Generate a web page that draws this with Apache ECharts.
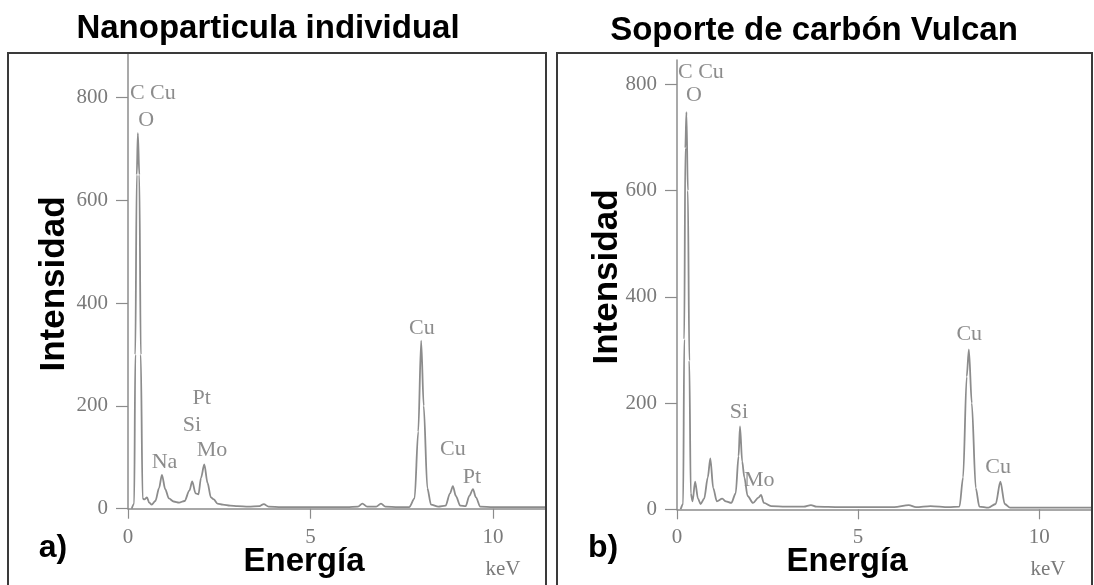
<!DOCTYPE html>
<html>
<head>
<meta charset="utf-8">
<script src="https://cdn.jsdelivr.net/npm/echarts@6/dist/echarts.min.js"></script>
<style>html,body{margin:0;padding:0;background:#fff;}#c{width:1094px;height:585px;}</style>
</head>
<body>
<div id="c"></div>
<script>
// ---- Data ----
const energyA = [0.10,0.17,0.20,0.24,0.27,0.31,0.35,0.40,0.45,0.52,0.58,0.65,0.75,0.85,0.93,1.02,1.12,1.25,1.40,1.55,1.68,1.76,1.85,1.93,2.00,2.09,2.18,2.27,2.35,2.45,2.60,2.80,3.00,3.30,3.60,3.72,3.85,4.20,4.60,5.00,5.50,6.00,6.30,6.42,6.55,6.80,6.93,7.05,7.40,7.70,7.85,7.95,8.03,8.10,8.20,8.30,8.50,8.70,8.82,8.90,8.98,9.10,9.25,9.35,9.45,9.53,9.65,10.00,10.50,11.00,11.45];
const countsA = [0,10,300,650,731,650,300,20,18,22,12,8,15,40,66,38,20,14,12,15,35,53,30,28,60,86,50,22,18,10,8,6,5,4,5,9,4,3,3,3,3,3,4,10,4,4,10,4,3,3,20,150,327,200,40,8,4,6,30,44,25,6,5,25,38,22,4,3,3,3,3];

const energyB = [0.10,0.17,0.20,0.23,0.26,0.30,0.34,0.38,0.43,0.50,0.58,0.65,0.75,0.85,0.92,1.00,1.10,1.25,1.35,1.50,1.62,1.70,1.74,1.80,1.86,1.95,2.10,2.25,2.32,2.40,2.60,3.00,3.50,3.70,3.85,4.50,5.00,5.50,6.00,6.40,6.60,7.00,7.50,7.80,7.90,8.00,8.06,8.14,8.25,8.35,8.60,8.80,8.93,9.05,9.20,9.60,10.00,11.46];
const countsB = [0,10,320,680,748,600,280,30,15,52,20,10,20,60,96,40,15,20,15,12,30,100,156,90,60,25,12,22,27,12,6,5,5,8,5,4,4,4,4,8,4,6,4,5,60,250,301,200,40,5,3,10,52,10,3,3,3,3];

const peakLabelsA = ['C Cu','O','Na','Si','Pt','Mo','Cu','Cu','Pt'];
const peakLabelXA = [0.68,0.50,1.00,1.75,2.02,2.30,8.05,8.90,9.42];
const peakLabelYA = [809,757,91,163,216,113,352,115,62];

const peakLabelsB = ['C Cu','O','Si','Mo','Cu','Cu'];
const peakLabelXB = [0.66,0.47,1.71,2.27,8.07,8.87];
const peakLabelYB = [823,779,183,55,329,79];

const yTicks = [0,200,400,600,800];
const xTicks = [0,5,10];

const titles = ['Nanoparticula individual','Soporte de carbón Vulcan'];
const panelTags = ['a)','b)'];
const yName = 'Intensidad';
const xName = 'Energía';
const unit = 'keV';

// ---- Chart ----
const chart = echarts.init(document.getElementById('c'), null, {renderer:'canvas'});
const serif = '"Liberation Serif","Times New Roman",serif';
const sans = '"Liberation Sans",Arial,sans-serif';
const tickGrey = '#7a7a7a';
const lineGrey = '#8c8c8c';

function xAxisCfg(idx, max){
  return {
    type:'value', gridIndex:idx, min:0, max:max,
    axisLine:{show:true, onZero:false, lineStyle:{color:lineGrey, width:1.5}},
    axisTick:{show:true, length:10, customValues:xTicks, lineStyle:{color:lineGrey, width:1.2}},
    axisLabel:{customValues:xTicks, color:tickGrey, fontFamily:serif, fontSize:21, margin:18},
    splitLine:{show:false}
  };
}
function yAxisCfg(idx, max){
  return {
    type:'value', gridIndex:idx, min:0, max:max,
    axisLine:{show:true, onZero:false, lineStyle:{color:lineGrey, width:1.5}},
    axisTick:{show:true, length:12, customValues:yTicks, lineStyle:{color:lineGrey, width:1.2}},
    axisLabel:{customValues:yTicks, color:tickGrey, fontFamily:serif, fontSize:21, margin:20},
    splitLine:{show:false}
  };
}
function pairs(xs, ys){ return xs.map((x,i)=>[x, ys[i]]); }
function labelData(xs, ys, ts){ return xs.map((x,i)=>({value:[x, ys[i]], name:ts[i]})); }

function spectrum(idx, xs, ys){
  return {
    type:'line', xAxisIndex:idx, yAxisIndex:idx, data:pairs(xs, ys),
    showSymbol:false, smooth:0.3, smoothMonotone:'x',
    lineStyle:{color:lineGrey, width:1.8}, silent:true, animation:false, z:3
  };
}
function peakLabels(idx, xs, ys, ts){
  return {
    type:'scatter', xAxisIndex:idx, yAxisIndex:idx, data:labelData(xs, ys, ts),
    symbolSize:1, itemStyle:{color:'rgba(0,0,0,0)'}, silent:true, animation:false,
    label:{show:true, position:'inside', formatter:p=>p.name, color:'#6f6f6f', fontFamily:serif, fontSize:22}
  };
}

const boldText = (x, y, text, size, extra) => Object.assign({
  type:'text', x:x, y:y,
  style:{text:text, font:'bold '+size+'px '+sans, fill:'#000', align:'center', verticalAlign:'middle'}
}, extra||{});

chart.setOption({
  animation:false,
  backgroundColor:'#ffffff',
  grid:[
    {left:128, top:53, width:418, height:455.7},
    {left:677, top:60, width:415, height:449.3}
  ],
  xAxis:[xAxisCfg(0, 11.45), xAxisCfg(1, 11.46)],
  yAxis:[yAxisCfg(0, 887), yAxisCfg(1, 846)],
  series:[
    spectrum(0, energyA, countsA),
    spectrum(1, energyB, countsB),
    peakLabels(0, peakLabelXA, peakLabelYA, peakLabelsA),
    peakLabels(1, peakLabelXB, peakLabelYB, peakLabelsB)
  ],
  graphic:[
    {type:'rect', shape:{x:8, y:53, width:538, height:560}, style:{fill:'none', stroke:'#3a3a3a', lineWidth:2}, z:10},
    {type:'rect', shape:{x:557, y:53, width:535, height:560}, style:{fill:'none', stroke:'#3a3a3a', lineWidth:2}, z:10},
    boldText(268, 29, titles[0], 33),
    boldText(814, 31, titles[1], 33),
    boldText(54, 284, yName, 35, {rotation:Math.PI/2}),
    boldText(607, 277, yName, 35, {rotation:Math.PI/2}),
    boldText(304, 562, xName, 33),
    boldText(847, 562, xName, 33),
    boldText(53, 548, panelTags[0], 32),
    boldText(603, 548, panelTags[1], 32),
    {type:'text', x:503, y:569, style:{text:unit, font:'21px '+serif, fill:tickGrey, align:'center', verticalAlign:'middle'}},
    {type:'text', x:1048, y:569, style:{text:unit, font:'21px '+serif, fill:tickGrey, align:'center', verticalAlign:'middle'}}
  ]
});
</script>
</body>
</html>
